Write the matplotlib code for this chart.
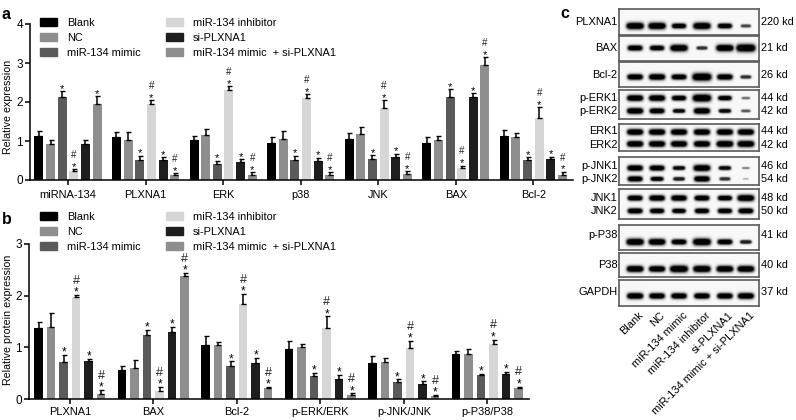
import numpy as np
import matplotlib
matplotlib.use('Agg')
import matplotlib.pyplot as plt
from matplotlib.patches import Patch

plt.rcParams['font.family'] = ['Liberation Sans', 'DejaVu Sans']
plt.rcParams['axes.linewidth'] = 1.1

W, H = 796, 420

groups_leg = ['Blank', 'NC', 'miR-134 mimic', 'miR-134 inhibitor', 'si-PLXNA1',
              'miR-134 mimic  + si-PLXNA1']
cores = ['#000000', '#8e8e8e', '#5a5a5a', '#d6d6d6', '#1e1e1e', '#8e8e8e']

# painel a
cat_a = ['miRNA-134', 'PLXNA1', 'ERK', 'p38', 'JNK', 'BAX', 'Bcl-2']
val_a = [[1.12, 0.92, 2.13, 0.22, 0.92, 1.95],
         [1.10, 1.02, 0.52, 1.95, 0.52, 0.12],
         [1.02, 1.15, 0.42, 2.30, 0.45, 0.12],
         [0.95, 1.05, 0.52, 2.10, 0.50, 0.13],
         [1.05, 1.18, 0.54, 1.85, 0.60, 0.15],
         [0.95, 1.02, 2.13, 0.30, 2.13, 2.95],
         [1.12, 1.09, 0.51, 1.60, 0.54, 0.12]]
err_a = [[0.13, 0.10, 0.15, 0.05, 0.10, 0.20],
         [0.12, 0.22, 0.10, 0.10, 0.07, 0.05],
         [0.10, 0.15, 0.08, 0.10, 0.08, 0.08],
         [0.15, 0.20, 0.10, 0.10, 0.07, 0.07],
         [0.15, 0.17, 0.09, 0.20, 0.07, 0.07],
         [0.15, 0.10, 0.20, 0.07, 0.10, 0.20],
         [0.15, 0.12, 0.07, 0.27, 0.06, 0.09]]
stars_a = [[2, 3, 5], [2, 3, 4, 5], [2, 3, 4, 5], [2, 3, 4, 5], [2, 3, 4, 5], [2, 3, 4, 5], [2, 3, 4, 5]]
hash_a = [[3], [3, 5], [3, 5], [3, 5], [3, 5], [3, 5], [3, 5]]

# painel b
cat_b = ['PLXNA1', 'BAX', 'Bcl-2', 'p-ERK/ERK', 'p-JNK/JNK', 'p-P38/P38']
val_b = [[1.38, 1.40, 0.72, 1.98, 0.73, 0.10],
         [0.56, 0.60, 1.23, 0.16, 1.30, 2.38],
         [1.04, 1.04, 0.64, 1.84, 0.70, 0.21],
         [0.97, 1.00, 0.44, 1.38, 0.38, 0.08],
         [0.70, 0.72, 0.33, 0.98, 0.30, 0.06],
         [0.87, 0.88, 0.46, 1.07, 0.49, 0.22]]
err_b = [[0.11, 0.26, 0.13, 0.03, 0.05, 0.07],
         [0.08, 0.16, 0.11, 0.07, 0.09, 0.06],
         [0.18, 0.06, 0.09, 0.19, 0.10, 0.02],
         [0.16, 0.06, 0.06, 0.22, 0.08, 0.03],
         [0.14, 0.07, 0.05, 0.15, 0.04, 0.02],
         [0.05, 0.08, 0.03, 0.08, 0.04, 0.02]]

# painel c
lanes = ['Blank', 'NC', 'miR-134 mimic', 'miR-134 inhibitor', 'si-PLXNA1', 'miR-134 mimic + si-PLXNA1']
blot_top = [9, 36, 62, 90, 124, 157, 189, 225, 253, 280]
blot_bot = [35, 61, 87, 119, 151, 185, 219, 250, 277, 306]
blot_names = [['PLXNA1'], ['BAX'], ['Bcl-2'], ['p-ERK1', 'p-ERK2'], ['ERK1', 'ERK2'],
              ['p-JNK1', 'p-JNK2'], ['JNK1', 'JNK2'], ['p-P38'], ['P38'], ['GAPDH']]
blot_kd = [['220 kd'], ['21 kd'], ['26 kd'], ['44 kd', '42 kd'], ['44 kd', '42 kd'],
           ['46 kd', '54 kd'], ['48 kd', '50 kd'], ['41 kd'], ['40 kd'], ['37 kd']]
blot_rows = [[26], [48], [77], [98, 111], [132, 144], [168, 179], [198, 211], [242], [269], [296]]
label_rows = [[22], [48], [75], [98, 111], [131, 145], [166, 179], [198, 211], [235], [265], [292]]
blot_bands = [[[1.0, 1.0, 0.75, 1.0, 0.75, 0.45]],
              [[0.8, 0.75, 1.0, 0.5, 1.0, 1.15]],
              [[0.85, 0.9, 0.8, 1.15, 0.85, 0.5]],
              [[0.9, 0.9, 0.75, 1.1, 0.7, 0.35], [0.9, 0.8, 0.6, 0.9, 0.6, 0.4]],
              [[0.9, 0.9, 0.9, 0.9, 0.9, 0.9], [0.9, 0.9, 0.9, 0.9, 0.95, 0.95]],
              [[0.85, 0.8, 0.6, 0.95, 0.6, 0.3], [0.8, 0.65, 0.55, 0.85, 0.5, 0.2]],
              [[0.8, 0.85, 0.85, 0.8, 0.75, 0.95], [0.8, 0.75, 0.7, 0.75, 0.75, 0.8]],
              [[1.0, 0.95, 0.8, 1.05, 0.8, 0.55]],
              [[0.95, 0.9, 1.05, 1.0, 0.95, 0.95]],
              [[0.9, 0.85, 0.85, 0.85, 0.85, 0.9]]]
lane_x = [635, 657, 679, 702, 725, 746]
blot_left, blot_right = 619, 759


def eixo_px(x0, y0, x1, y1):
    return fig.add_axes([x0 / W, 1 - y1 / H, (x1 - x0) / W, (y1 - y0) / H])


def barras(ax, valores, erros, categorias, passo, largura, stars=None, hashes=None, fs=(8, 8), pad_x=2.5):
    for g, (v, e) in enumerate(zip(valores, erros)):
        for i in range(6):
            x = g + (i - 2.5) * passo
            ax.bar(x, v[i], largura, color=cores[i], yerr=[[0], [e[i]]],
                   error_kw=dict(ecolor='black', elinewidth=1.1, capsize=1.8, capthick=1.0))
            topo = v[i] + e[i]
            if (stars is None and i >= 2) or (stars is not None and i in stars[g]):
                ax.annotate('*', (x, topo), xytext=(0, -0.5), textcoords='offset points',
                            ha='center', va='baseline', fontsize=fs[0])
            if (hashes is None and i in (3, 5)) or (hashes is not None and i in hashes[g]):
                ax.annotate('#', (x, topo), xytext=(0, 8), textcoords='offset points',
                            ha='center', va='baseline', fontsize=fs[1], color='#222222')
    ax.set_xticks(range(len(categorias)))
    ax.set_xticklabels(categorias, fontsize=7.9)
    ax.spines['top'].set_visible(False)
    ax.spines['right'].set_visible(False)
    ax.tick_params(axis='x', length=3.5, width=1.1, pad=pad_x)
    ax.tick_params(axis='y', length=3.5, width=1.1, pad=1.5, labelsize=8.5)


def legenda(ax, y_px):
    alcas = [Patch(color=c) for c in cores]
    ax.legend(alcas, groups_leg, ncol=2, frameon=False, fontsize=7.9,
              loc='upper left', bbox_to_anchor=(40 / W, 1 - y_px / H),
              bbox_transform=fig.transFigure, borderpad=0, borderaxespad=0,
              handlelength=1.55, handleheight=0.72, handletextpad=0.9,
              labelspacing=0.45, columnspacing=2.35)


fig = plt.figure(figsize=(W / 100, H / 100), dpi=100)

# a
ax_a = eixo_px(30, 24, 573, 180)
barras(ax_a, val_a, err_a, cat_a, 0.15, 0.116, stars_a, hash_a, fs=(8, 7), pad_x=3.5)
ax_a.set_xlim(-0.49, 6.51)
ax_a.set_ylim(0, 4)
ax_a.set_yticks([0, 1, 2, 3, 4])
legenda(ax_a, 18)

# b
ax_b = eixo_px(29, 244, 529, 399)
barras(ax_b, val_b, err_b, cat_b, 0.15, 0.102, fs=(8.5, 9))
ax_b.set_xlim(-0.49, 5.5)
ax_b.set_ylim(0, 3)
ax_b.set_yticks([0, 1, 2, 3])
legenda(ax_b, 212)

fig.text(8 / W, 1 - 107 / H, 'Relative expression', rotation=90, ha='center', va='center', fontsize=7.7)
fig.text(8 / W, 1 - 320 / H, 'Relative protein expression', rotation=90, ha='center', va='center', fontsize=7.7)

# letras dos paineis
fig.text(2 / W, 1 - 19 / H, 'a', fontsize=11.5, fontweight='bold')
fig.text(2 / W, 1 - 224 / H, 'b', fontsize=11.5, fontweight='bold')
fig.text(560 / W, 1 - 18 / H, 'c', fontsize=11.5, fontweight='bold')

# c - bandas desenhadas como imagem
for t, b, nomes, kds, linhas, rot_y, bandas in zip(blot_top, blot_bot, blot_names, blot_kd,
                                                  blot_rows, label_rows, blot_bands):
    ax = eixo_px(blot_left, t, blot_right, b)
    xx, yy = np.meshgrid(np.linspace(blot_left, blot_right, (blot_right - blot_left) * 3),
                         np.linspace(t, b, (b - t) * 3))
    escuro = np.zeros_like(xx)
    for y_b, forcas in zip(linhas, bandas):
        for x_b, s in zip(lane_x, forcas):
            wx = 8.6 * s ** 0.7
            wy = 3.2 * s
            d = np.exp(-(np.abs(xx - x_b) / wx) ** 5 - (np.abs(yy - y_b) / wy) ** 2)
            escuro = np.maximum(escuro, min(1.0, s * 1.6) * np.clip(d * 1.7, 0, 1))
    ax.imshow(0.97 - 0.97 * escuro, cmap='gray', vmin=0, vmax=1, aspect='auto',
              extent=(blot_left, blot_right, b, t), interpolation='bilinear')
    ax.set_xticks([])
    ax.set_yticks([])
    for s in ax.spines.values():
        s.set_color('#5a5a5a')
        s.set_linewidth(1.2)
    for nome, kd, y in zip(nomes, kds, rot_y):
        fig.text(617.5 / W, 1 - y / H, nome, ha='right', va='center', fontsize=7.9)
        fig.text(761 / W, 1 - y / H, kd, ha='left', va='center', fontsize=7.9)

for x, nome in zip(lane_x, lanes):
    fig.text((x + 3) / W, 1 - 310 / H, nome, rotation=45, ha='right', va='top',
             rotation_mode='anchor', fontsize=7.9)

fig.savefig('out.png', dpi=100)
